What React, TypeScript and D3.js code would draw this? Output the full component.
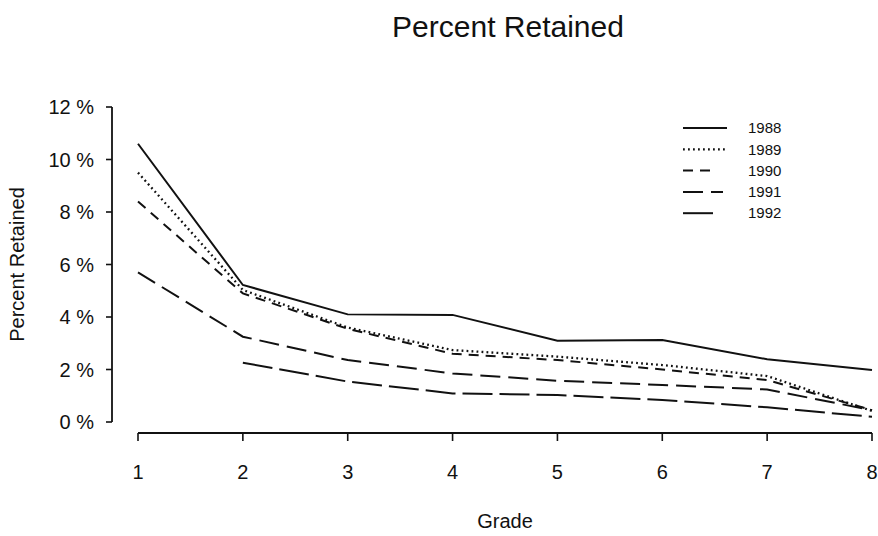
import React from "react";
import * as d3 from "d3";

const grades = [1, 2, 3, 4, 5, 6, 7, 8];
const yTicks = [0, 2, 4, 6, 8, 10, 12];
const years = ["1988", "1989", "1990", "1991", "1992"];
const s1988 = [10.6, 5.22, 4.1, 4.08, 3.1, 3.12, 2.39, 1.98];
const s1989 = [9.5, 5.03, 3.6, 2.74, 2.49, 2.17, 1.75, 0.42];
const s1990 = [8.4, 4.9, 3.55, 2.6, 2.36, 2.0, 1.6, 0.45];
const s1991 = [5.7, 3.25, 2.36, 1.85, 1.57, 1.41, 1.24, 0.45];
const s1992 = [null, 2.26, 1.54, 1.09, 1.03, 0.84, 0.56, 0.2];
const seriesValues = [s1988, s1989, s1990, s1991, s1992];

const dashes = ["", "1.8,3.2", "10,7", "20,8", "30,7"];
const legendLen = [44, 44, 30, 40, 36];

const W = 878;
const H = 536;
const FONT = "'Liberation Sans', Arial, Helvetica, sans-serif";

export default function App() {
  const x = d3.scaleLinear().domain([1, 8]).range([138, 872]);
  const y = d3.scaleLinear().domain([0, 12]).range([422, 107]);
  const yAxisX = 112;
  const xAxisY = 433;

  const line = d3
    .line<number | null>()
    .defined((d) => d !== null)
    .x((_, i) => x(grades[i]))
    .y((d) => y(d as number));

  return (
    <div style={{ position: "absolute", left: 0, top: 0 }}>
      <svg width={W} height={H} style={{ display: "block", background: "#fff" }} fontFamily={FONT}>
        <text x={508} y={37} textAnchor="middle" fontSize={30} fill="#111">
          Percent Retained
        </text>

        {/* y axis */}
        <line x1={yAxisX} x2={yAxisX} y1={y(12)} y2={y(0)} stroke="#111" strokeWidth={1.8} />
        {yTicks.map((t) => (
          <g key={t}>
            <line x1={yAxisX - 6} x2={yAxisX} y1={y(t)} y2={y(t)} stroke="#111" strokeWidth={1.6} />
            <text x={yAxisX - 18} y={y(t)} dy="0.35em" textAnchor="end" fontSize={20} fill="#111">
              {`${t} %`}
            </text>
          </g>
        ))}
        <text
          transform={`translate(24,${(y(0) + y(12)) / 2}) rotate(-90)`}
          textAnchor="middle"
          fontSize={20}
          fill="#111"
        >
          Percent Retained
        </text>

        {/* x axis */}
        <line x1={x(1)} x2={x(8)} y1={xAxisY} y2={xAxisY} stroke="#111" strokeWidth={1.8} />
        {grades.map((g) => (
          <g key={g}>
            <line x1={x(g)} x2={x(g)} y1={xAxisY} y2={xAxisY + 8} stroke="#111" strokeWidth={1.6} />
            <text x={x(g)} y={472} dy="0.35em" textAnchor="middle" fontSize={20} fill="#111">
              {g}
            </text>
          </g>
        ))}
        <text x={505} y={521} dy="0.35em" textAnchor="middle" fontSize={20} fill="#111">
          Grade
        </text>

        {/* series */}
        {seriesValues.map((vals, i) => (
          <path
            key={years[i]}
            d={line(vals) || ""}
            fill="none"
            stroke="#111"
            strokeWidth={i === 1 ? 2.3 : 2}
            strokeDasharray={dashes[i] || undefined}
          />
        ))}

        {/* legend */}
        {years.map((yr, i) => {
          const ly = 128 + i * 21.3;
          return (
            <g key={yr}>
              <line
                x1={683}
                x2={683 + legendLen[i]}
                y1={ly}
                y2={ly}
                stroke="#111"
                strokeWidth={i === 1 ? 2.3 : 2}
                strokeDasharray={dashes[i] || undefined}
              />
              <text x={748} y={ly} dy="0.35em" fontSize={15} fill="#111">
                {yr}
              </text>
            </g>
          );
        })}
      </svg>
    </div>
  );
}
